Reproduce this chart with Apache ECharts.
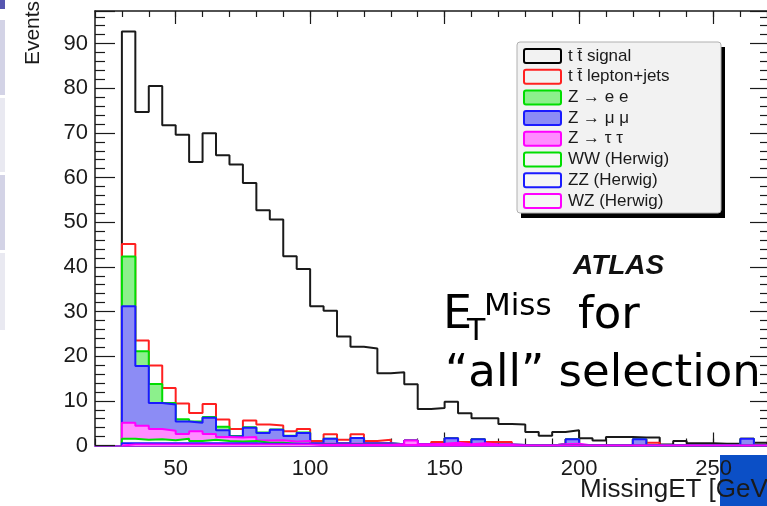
<!DOCTYPE html>
<html><head><meta charset="utf-8">
<script src="https://cdn.jsdelivr.net/npm/echarts@6/dist/echarts.min.js"></script>
<style>html,body{margin:0;padding:0;background:#fff}#c{width:767px;height:506px}</style>
</head><body><div id="c"></div>
<script>
// Histogram bins: 5 GeV wide, starting at 30 GeV (48 bins, 30-270 GeV)
const binStart = 30;
const binWidth = 5;
const signal  = [92.7,74.7,80.5,71.7,69.6,63.5,69.9,65.0,62.9,58.8,52.7,50.6,42.4,39.5,31.2,30.2,24.4,22.1,21.7,16.2,16.4,13.7,8.2,8.4,9.8,7.2,6.1,6.1,4.8,4.7,3.0,2.2,3.0,3.4,1.6,1.1,1.9,1.9,1.8,1.8,0.2,1.0,0.5,0.5,0.4,0.4,1.1,0.6];
const ttLepJets = [2.8,2.4,4.1,3.4,3.5,1.9,2.9,1.6,1.6,1.5,1.8,0.9,1.0,0.8,0.5,1.0,0.8,0.8,0.5,0.8,0,0,0,0.4,0,0.5,0,0.6,0.6,0,0,0,0,0,0,0,0,0,0,0.6,0,0,0,0,0,0,0,0];
const zee     = [11.1,3.3,4.3,0.3,0.5,0.3,0.2,0.8,0.1,0.1,0.1,0.1,0.1,0.1,0,0,0,0,0,0,0,0,0,0,0,0,0,0,0,0,0,0,0,0,0,0,0,0,0,0,0,0,0,0,0,0,0,0];
const zmumu   = [26.1,13.4,5.8,5.9,2.8,1.9,3.6,1.5,0.2,2.1,1.7,2.3,1.2,1.8,0.1,1.1,0.1,1.3,0.1,0.1,0,0,0,0,1.0,0,0.9,0,0,0,0,0,0,1.0,0,0,0,0,1.4,0,0,0,0,0,0,0,1.5,0];
const ztautau = [3.6,3.1,2.3,2.1,1.1,2.2,1.3,0.9,0.9,0.9,0.5,0.6,0.5,0.6,0.2,0.2,0.2,0.2,0.2,0.2,0.2,1.0,0.2,0.3,0.5,0.2,0.4,0.1,0.1,0.1,0,0,0.3,0.4,0,0,0,0,0,0,0,0,0,0,0,0,0,0];
const ww      = [1.0,0.8,0.9,0.7,1.0,0.5,0.8,0.5,0.4,0.5,0.2,0.2,0,0,0,0,0,0,0,0,0,0,0,0,0,0,0,0,0,0,0,0,0,0,0,0,0,0,0,0,0,0,0,0,0,0,0,0];
const zz      = [0.3,0.3,0.3,0.3,0.3,0.3,0.3,0.3,0.3,0.3,0.2,0.2,0.2,0.2,0.1,0.1,0.1,0.1,0.1,0.1,0,0,0,0,0,0,0,0,0,0,0,0,0,0,0,0,0,0,0,0,0,0,0,0,0,0,0,0];
const wz      = [0.2,0.2,0.2,0.2,0.2,0.2,0.2,0.2,0.2,0.2,0.2,0.2,0.2,0.2,0.1,0.1,0.1,0.1,0.1,0.1,0.1,0.1,0.1,0.1,0.1,0.1,0.1,0.1,0.1,0,0,0,0,0,0,0,0,0,0,0,0,0,0,0,0,0,0,0];
const xTickLabels = [50,100,150,200,250];
const yTickLabels = [0,10,20,30,40,50,60,70,80,90];
const legendLabels = ['t t\u0304 signal','t t\u0304 lepton+jets','Z \u2192 e e','Z \u2192 \u03bc \u03bc','Z \u2192 \u03c4 \u03c4','WW (Herwig)','ZZ (Herwig)','WZ (Herwig)'];

// stacking order bottom -> top
const stackLayers = [
  {name:'WZ (Herwig)', vals:wz, line:'#ff00ff', fill:'#fbf4fb'},
  {name:'ZZ (Herwig)', vals:zz, line:'#1a1aff', fill:'#f6f6fb'},
  {name:'WW (Herwig)', vals:ww, line:'#00dd00', fill:'#f6fbf6'},
  {name:'Z tautau', vals:ztautau, line:'#ff00ff', fill:'#ff8cff'},
  {name:'Z mumu', vals:zmumu, line:'#1a1aff', fill:'#8c8cf5'},
  {name:'Z ee', vals:zee, line:'#00dd00', fill:'#8cf08c'},
  {name:'tt lepton+jets', vals:ttLepJets, line:'#ff2020', fill:null}
];

function histPoints(vals){
  const pts=[[binStart,0]];
  vals.forEach((v,i)=>pts.push([binStart+i*binWidth, v]));
  const end = binStart + vals.length*binWidth;
  pts.push([end, vals[vals.length-1]]);
  pts.push([end, 0]);
  return pts;
}

const series = [];
series.push({type:'line', name:'signal', step:'end', data:histPoints(signal), symbol:'none', z:2,
  lineStyle:{color:'#1a1a1a', width:2}, silent:true, animation:false});
let cum = new Array(signal.length).fill(0);
const cumList = [];
stackLayers.forEach(l=>{ cum = cum.map((c,i)=>c + l.vals[i]); cumList.push(cum.slice()); });
// draw from top layer down so that lower layers cover
for (let k = stackLayers.length-1; k>=0; k--){
  const l = stackLayers[k];
  const s = {type:'line', name:l.name, step:'end', data:histPoints(cumList[k].map(v=>Math.round(v*100)/100)), symbol:'none',
    z: 3 + (stackLayers.length-1-k), lineStyle:{color:l.line, width:2}, silent:true, animation:false};
  if (l.fill) s.areaStyle = {color:l.fill, opacity:1};
  series.push(s);
}

const FONT = 'Liberation Sans, Arial, Helvetica, sans-serif';
const SLIDE = 'DejaVu Sans, sans-serif';
const axisCol = '#1a1a1a';
const isTick = (v, list) => list.some(t => Math.abs(t - v) < 1e-6);

const legendEls = [];
const legX = 517, legY = 42, legW = 204, legH = 171;
legendEls.push({type:'rect', shape:{x:legX+4, y:legY+5, width:legW, height:legH}, style:{fill:'#000'}, z:100});
legendEls.push({type:'rect', shape:{x:legX, y:legY, width:legW, height:legH, r:3}, style:{fill:'#f2f2f2', stroke:'#b0b0b0', lineWidth:1}, z:101});
const swatch = [
  {stroke:'#000000', fill:'#f2f2f2'},
  {stroke:'#ff2020', fill:'#f2f2f2'},
  {stroke:'#00dd00', fill:'#8cf08c'},
  {stroke:'#1a1aff', fill:'#8c8cf5'},
  {stroke:'#ff00ff', fill:'#ff8cff'},
  {stroke:'#00dd00', fill:'#f6f6f6'},
  {stroke:'#1a1aff', fill:'#f6f6f6'},
  {stroke:'#ff00ff', fill:'#f6f6f6'}
];
legendLabels.forEach((t,i)=>{
  const cy = 56 + 20.7*i;
  legendEls.push({type:'rect', shape:{x:524, y:cy-7, width:37, height:14, r:2}, style:{fill:swatch[i].fill, stroke:swatch[i].stroke, lineWidth:2}, z:102});
  legendEls.push({type:'text', x:568, y:cy, style:{text:t, fontSize:17, fontFamily:FONT, fill:'#1a1a1a', textAlign:'left', textVerticalAlign:'middle'}, z:102});
});

const option = {
  backgroundColor:'#ffffff',
  animation:false,
  grid:{left:95, top:11, width:675, height:434.5, outerBoundsMode:'none', containLabel:false},
  xAxis:[
    {type:'value', position:'bottom', min:20, max:271, interval:10,
      axisLine:{show:true, onZero:false, lineStyle:{color:'#9b35d6', width:2}},
      axisTick:{show:true, inside:true, length:7, lineStyle:{color:axisCol, width:1.2}},
      axisLabel:{show:true, formatter:v=>isTick(v,xTickLabels)?String(Math.round(v)):'', fontSize:22, fontFamily:FONT, color:'#1a1a1a', margin:12},
      splitLine:{show:false}},
    {type:'value', position:'bottom', min:20, max:271,
      axisLine:{show:false, onZero:false},
      axisTick:{show:true, inside:true, length:13, customValues:xTickLabels, lineStyle:{color:axisCol, width:1.2}},
      axisLabel:{show:false}, splitLine:{show:false}},
    {type:'value', position:'top', min:20, max:271, interval:10,
      axisLine:{show:true, onZero:false, lineStyle:{color:axisCol, width:1.5}},
      axisTick:{show:true, inside:true, length:6, lineStyle:{color:axisCol, width:1.2}},
      axisLabel:{show:false}, splitLine:{show:false}},
    {type:'value', position:'top', min:20, max:271,
      axisLine:{show:false, onZero:false},
      axisTick:{show:true, inside:true, length:13, customValues:xTickLabels, lineStyle:{color:axisCol, width:1.2}},
      axisLabel:{show:false}, splitLine:{show:false}}
  ],
  yAxis:[
    {type:'value', position:'left', min:0, max:97.3, interval:10,
      axisLine:{show:true, onZero:false, lineStyle:{color:axisCol, width:1.5}},
      axisTick:{show:true, inside:true, length:20, lineStyle:{color:axisCol, width:1.2}},
      minorTick:{show:true, splitNumber:5, length:10, lineStyle:{color:axisCol, width:1.2}},
      axisLabel:{formatter:v=>isTick(v,yTickLabels)?String(Math.round(v)):'', fontSize:22, fontFamily:FONT, color:'#1a1a1a', margin:7},
      splitLine:{show:false}},
    {type:'value', position:'right', min:0, max:97.3, interval:10,
      axisLine:{show:true, onZero:false, lineStyle:{color:axisCol, width:1.5}},
      axisTick:{show:true, inside:true, length:20, lineStyle:{color:axisCol, width:1.2}},
      minorTick:{show:true, splitNumber:5, length:10, lineStyle:{color:axisCol, width:1.2}},
      axisLabel:{show:false}, splitLine:{show:false}}
  ],
  series: series,
  graphic:{elements:[
    // slide residue on the left
    {type:'rect', shape:{x:0, y:0, width:5, height:9}, style:{fill:'#5656b0'}, z:-5},
    {type:'rect', shape:{x:0, y:20, width:5, height:75}, style:{fill:'#d3d3e6'}, z:-5},
    {type:'rect', shape:{x:0, y:98, width:5, height:74}, style:{fill:'#e9e9f1'}, z:-5},
    {type:'rect', shape:{x:0, y:175, width:5, height:75}, style:{fill:'#d3d3e6'}, z:-5},
    {type:'rect', shape:{x:0, y:253, width:5, height:77}, style:{fill:'#e9e9f1'}, z:-5},
    // blue slide box bottom right
    {type:'rect', shape:{x:720, y:455, width:47, height:51}, style:{fill:'#0b4fc6'}, z:-5},
    ...legendEls,
    {type:'text', x:573, y:266, style:{text:'ATLAS', fontSize:28, fontWeight:'bold', fontStyle:'italic', fontFamily:FONT, fill:'#111', textVerticalAlign:'middle'}, z:110},
    {type:'text', x:443, y:316, style:{text:'E', fontSize:46, fontFamily:SLIDE, fill:'#000', textVerticalAlign:'middle'}, z:110},
    {type:'text', x:467, y:332, style:{text:'T', fontSize:30, fontFamily:SLIDE, fill:'#000', textVerticalAlign:'middle'}, z:110},
    {type:'text', x:484, y:307, style:{text:'Miss', fontSize:31, fontFamily:SLIDE, fill:'#000', textVerticalAlign:'middle'}, z:110},
    {type:'text', x:578, y:316, style:{text:'for', fontSize:45, fontFamily:SLIDE, fill:'#000', textVerticalAlign:'middle'}, z:110},
    {type:'text', x:445, y:374, style:{text:'\u201call\u201d selection', fontSize:45, fontFamily:SLIDE, fill:'#000', textVerticalAlign:'middle'}, z:110},
    {type:'text', x:33, y:33, rotation:Math.PI/2, style:{text:'Events', fontSize:21, fontFamily:FONT, fill:'#1a1a1a', textAlign:'center', textVerticalAlign:'middle'}, z:110},
    {type:'text', x:580, y:490, style:{text:'MissingET [GeV]', fontSize:26, fontFamily:FONT, fill:'#1a1a1a', textAlign:'left', textVerticalAlign:'middle'}, z:110}
  ]}
};
const chart = echarts.init(document.getElementById('c'), null, {renderer:'canvas'});
chart.setOption(option);
</script>
</body></html>
